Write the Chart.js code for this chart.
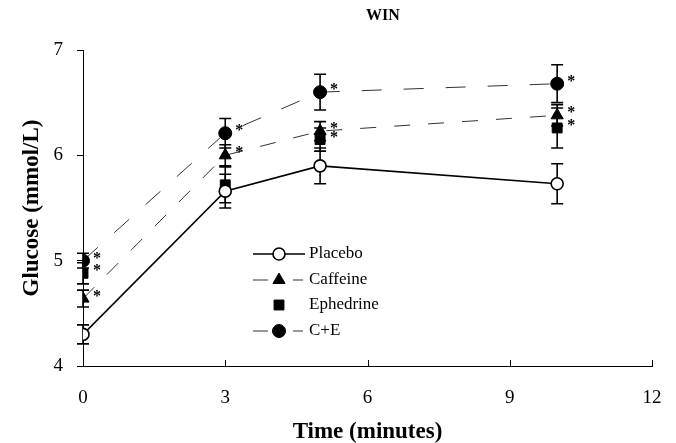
<!DOCTYPE html>
<html><head><meta charset="utf-8">
<script src="https://cdn.jsdelivr.net/npm/chart.js@4.4.1/dist/chart.umd.min.js"></script>
<style>html,body{margin:0;padding:0;background:#fff}</style>
</head><body>
<canvas id="c" width="676" height="443"></canvas>
<script>
const chartTitle = 'WIN';
const xAxisTitle = 'Time (minutes)';
const yAxisTitle = 'Glucose (mmol/L)';
const timePoints = [0, 3, 5, 10];
const seriesNames = ['Placebo', 'Caffeine', 'Ephedrine', 'C+E'];
const placeboValues = [4.30, 5.66, 5.90, 5.73];
const placeboErrors = [0.09, 0.16, 0.17, 0.19];
const caffeineValues = [4.64, 6.00, 6.23, 6.38];
const caffeineErrors = [0.08, 0.10, 0.09, 0.10];
const ephedrineValues = [4.88, 5.72, 6.15, 6.26];
const ephedrineErrors = [0.10, 0.17, 0.11, 0.19];
const ceValues = [5.00, 6.21, 6.60, 6.68];
const ceErrors = [0.07, 0.14, 0.17, 0.18];
const placeboStars = [false, false, false, false];
const caffeineStars = [true, true, true, true];
const ephedrineStars = [true, false, true, true];
const ceStars = [true, true, true, true];
const xTickValues = [0, 3, 6, 9, 12];
const yTickValues = [4, 5, 6, 7];

const FONT = "'Liberation Serif', 'DejaVu Serif', serif";
const toPts = arr => arr.map((v, i) => ({x: timePoints[i], y: v}));

const errorsByDataset = [placeboErrors, caffeineErrors, ephedrineErrors, ceErrors];
const starsByDataset = [placeboStars, caffeineStars, ephedrineStars, ceStars];

const errorBarPlugin = {
  id: 'errorBars',
  beforeDatasetsDraw(chart) {
    const ctx = chart.ctx, xs = chart.scales.x, ys = chart.scales.y;
    ctx.save();
    ctx.strokeStyle = '#000';
    ctx.lineWidth = 1.6;
    chart.data.datasets.forEach((ds, i) => {
      const errs = errorsByDataset[i];
      ds.data.forEach((p, j) => {
        const x = xs.getPixelForValue(p.x);
        const y1 = ys.getPixelForValue(p.y + errs[j]);
        const y2 = ys.getPixelForValue(p.y - errs[j]);
        ctx.beginPath();
        ctx.moveTo(x, y1); ctx.lineTo(x, y2);
        ctx.moveTo(x - 6, y1); ctx.lineTo(x + 6, y1);
        ctx.moveTo(x - 6, y2); ctx.lineTo(x + 6, y2);
        ctx.stroke();
      });
    });
    ctx.restore();
  },
  afterDatasetsDraw(chart) {
    const ctx = chart.ctx, xs = chart.scales.x, ys = chart.scales.y;
    ctx.save();
    ctx.fillStyle = '#000';
    ctx.font = 'bold 16px ' + FONT;
    ctx.textAlign = 'left';
    ctx.textBaseline = 'middle';
    chart.data.datasets.forEach((ds, i) => {
      const stars = starsByDataset[i];
      ds.data.forEach((p, j) => {
        if (!stars[j]) return;
        const x = xs.getPixelForValue(p.x);
        const y = ys.getPixelForValue(p.y);
        ctx.fillText('*', x + 10, y - 2);
      });
    });
    // inward x ticks
    ctx.strokeStyle = '#000';
    ctx.lineWidth = 1;
    const b = chart.chartArea.bottom;
    xTickValues.forEach(v => {
      const x = Math.round(xs.getPixelForValue(v)) + 0.5;
      ctx.beginPath(); ctx.moveTo(x, b); ctx.lineTo(x, b - 6); ctx.stroke();
    });
    // chart title
    const ca = chart.chartArea;
    ctx.font = 'bold 16px ' + FONT;
    ctx.textAlign = 'center';
    ctx.fillText(chartTitle, ca.left + 300, 16);
    ctx.restore();
  }
};

const legendPlugin = {
  id: 'innerLegend',
  afterDraw(chart) {
    const ctx = chart.ctx, ca = chart.chartArea;
    const lx0 = ca.left + 170, lmx = ca.left + 196, lx1 = ca.left + 222, tx = ca.left + 226;
    const rows = [204, 230, 255, 281];
    ctx.save();
    chart.data.datasets.forEach((ds, i) => {
      const y = ca.top + rows[i];
      ctx.strokeStyle = ds.borderColor;
      ctx.lineWidth = ds.borderWidth;
      if (ds.showLine !== false) {
        ctx.beginPath();
        if (ds.borderDash && ds.borderDash.length) {
          ctx.moveTo(lx0, y); ctx.lineTo(lx0 + 15, y);
          ctx.moveTo(lx1 - 12, y); ctx.lineTo(lx1 - 2, y);
        } else {
          ctx.moveTo(lx0, y); ctx.lineTo(lx1, y);
        }
        ctx.stroke();
      }
      ctx.fillStyle = ds.pointBackgroundColor;
      ctx.strokeStyle = ds.pointBorderColor;
      ctx.lineWidth = ds.pointBorderWidth;
      Chart.helpers.drawPoint(ctx, {pointStyle: ds.pointStyle, radius: ds.pointRadius, rotation: 0, borderWidth: ds.pointBorderWidth}, lmx, y);
      ctx.fillStyle = '#000';
      ctx.font = '17px ' + FONT;
      ctx.textAlign = 'left';
      ctx.textBaseline = 'middle';
      ctx.fillText(seriesNames[i], tx, y);
    });
    ctx.restore();
  }
};

new Chart(document.getElementById('c'), {
  type: 'line',
  data: {
    datasets: [
      {label: seriesNames[0], data: toPts(placeboValues), borderColor: '#000', borderWidth: 1.6,
       pointStyle: 'circle', pointRadius: 6, pointBackgroundColor: '#fff', pointBorderColor: '#000', pointBorderWidth: 1.6},
      {label: seriesNames[1], data: toPts(caffeineValues), borderColor: '#333', borderWidth: 1, borderDash: [16, 18],
       pointStyle: 'triangle', pointRadius: 7, pointBackgroundColor: '#000', pointBorderColor: '#000', pointBorderWidth: 1},
      {label: seriesNames[2], data: toPts(ephedrineValues), borderColor: '#000', borderWidth: 1, showLine: false,
       pointStyle: 'rect', pointRadius: 7, pointBackgroundColor: '#000', pointBorderColor: '#000', pointBorderWidth: 1},
      {label: seriesNames[3], data: toPts(ceValues), borderColor: '#333', borderWidth: 1, borderDash: [20, 22],
       pointStyle: 'circle', pointRadius: 6.5, pointBackgroundColor: '#000', pointBorderColor: '#000', pointBorderWidth: 1}
    ]
  },
  options: {
    responsive: false,
    animation: false,
    events: [],
    layout: {padding: {right: 24, left: 0, bottom: 0, top: 50}},
    plugins: {
      legend: {display: false},
      tooltip: {enabled: false},
      title: {display: false}
    },
    scales: {
      x: {
        type: 'linear', min: 0, max: 12,
        afterBuildTicks: s => { s.ticks = xTickValues.map(v => ({value: v})); },
        afterFit: s => { s.height = 77; },
        grid: {display: false},
        border: {display: true, color: '#000', width: 1},
        ticks: {color: '#000', font: {family: FONT, size: 19}, padding: 13, maxRotation: 0},
        title: {display: true, text: xAxisTitle, color: '#000', font: {family: FONT, size: 23, weight: 'bold'}, padding: {top: 0, bottom: -3}}
      },
      y: {
        type: 'linear', min: 4, max: 7,
        afterBuildTicks: s => { s.ticks = yTickValues.map(v => ({value: v})); },
        afterFit: s => { s.width = 83; },
        grid: {display: true, drawOnChartArea: false, tickLength: 6, color: '#000'},
        border: {display: true, color: '#000', width: 1},
        ticks: {color: '#000', font: {family: FONT, size: 19}, padding: 14},
        title: {display: true, text: yAxisTitle, color: '#000', font: {family: FONT, size: 23, weight: 'bold'}, padding: {top: 18, bottom: 0}}
      }
    }
  },
  plugins: [errorBarPlugin, legendPlugin]
});
</script>
</body></html>
